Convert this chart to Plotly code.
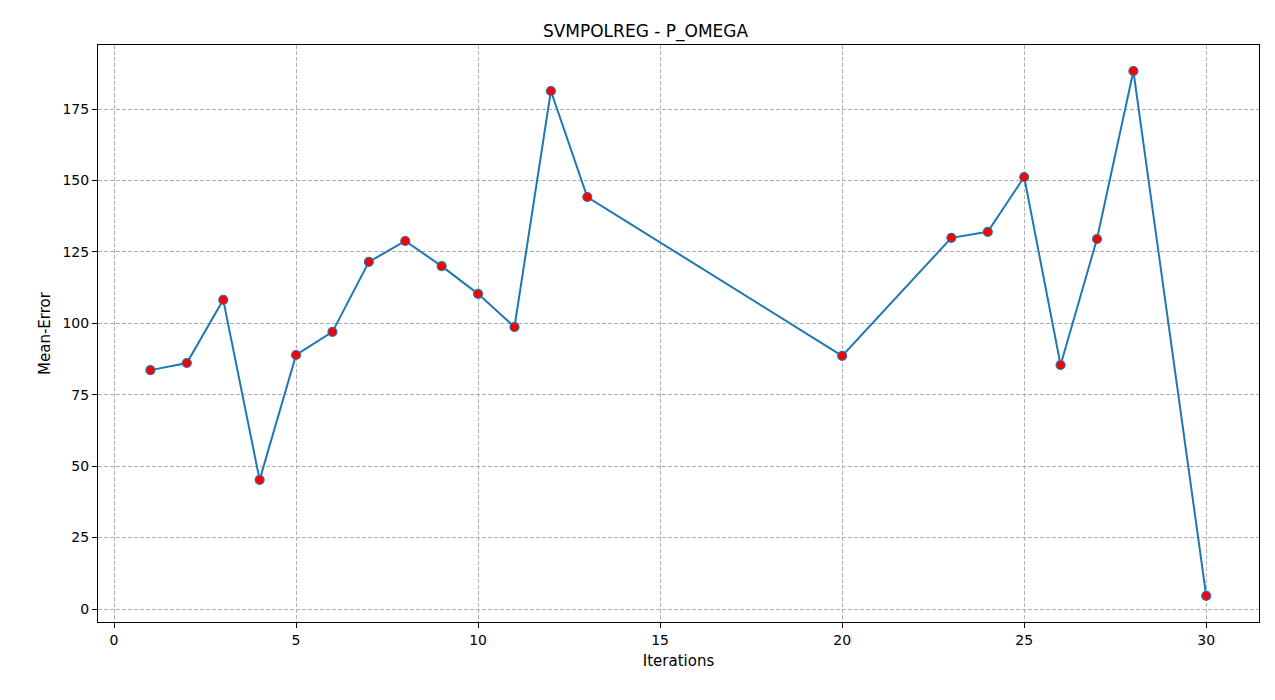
import plotly.graph_objects as go

iterations = [1,2,3,4,5,6,7,8,9,10,11,12,13,20,23,24,25,26,27,28,30]
mean_error = [83.6,86.1,108.2,45.2,88.9,97.0,121.5,128.8,120.0,110.3,98.7,181.3,144.2,88.6,129.9,132.0,151.2,85.4,129.5,188.3,4.6]

fig = go.Figure(go.Scatter(
    x=iterations, y=mean_error, mode="lines+markers",
    line=dict(color="#1f77b4", width=2),
    marker=dict(color="red", size=9, line=dict(color="#1f77b4", width=1.2)),
))
axis = dict(showline=True, linecolor="black", mirror=True, ticks="outside",
            tickcolor="black", showgrid=True, gridcolor="#b0b0b0", griddash="4px,2px",
            zeroline=False, tickfont=dict(size=14, color="black"))
fig.update_layout(
    width=1275, height=700, plot_bgcolor="white", paper_bgcolor="white",
    margin=dict(l=90, r=24, t=37, b=86),
    font=dict(family="DejaVu Sans", color="black"),
    title=dict(text="SVMPOLREG - P_OMEGA", x=0.5, xanchor="center", y=0.975, font=dict(size=17)),
    showlegend=False,
)
fig.update_xaxes(axis, range=[-0.44, 31.45], tickvals=[0,5,10,15,20,25,30],
                 title=dict(text="Iterations", font=dict(size=15), standoff=8))
fig.update_yaxes(axis, range=[-4.55, 197.4], tickvals=[0,25,50,75,100,125,150,175],
                 title=dict(text="Mean-Error", font=dict(size=15), standoff=8))
fig.write_html("out.html")
